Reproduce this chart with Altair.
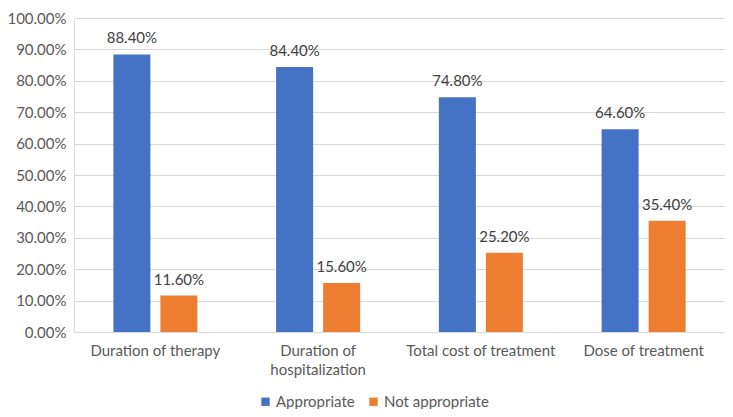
import altair as alt
import pandas as pd

categories = ["Duration of therapy", "Duration of hospitalization", "Total cost of treatment", "Dose of treatment"]
series = ["Appropriate", "Not appropriate"]
appropriate = [88.4, 84.4, 74.8, 64.6]
not_appropriate = [11.6, 15.6, 25.2, 35.4]
colors = ["#4472C4", "#ED7D31"]

rows = []
for c, a, n in zip(categories, appropriate, not_appropriate):
    rows.append({"category": c, "series": series[0], "value": a / 100})
    rows.append({"category": c, "series": series[1], "value": n / 100})
df = pd.DataFrame(rows)

FONT = "Lato"

x = alt.X("category:N", sort=categories, title=None,
          scale=alt.Scale(paddingInner=0, paddingOuter=0),
          axis=alt.Axis(labelAngle=0, ticks=False, domain=True, domainColor="#D9D9D9",
                        labelColor="#595959", labelFont=FONT, labelFontSize=15,
                        labelPadding=11, labelLineHeight=19,
                        labelExpr="datum.label == 'Duration of hospitalization' ? ['Duration of', 'hospitalization'] : datum.label"))
xo = alt.XOffset("series:N", sort=series,
                 scale=alt.Scale(paddingInner=0.2128, paddingOuter=0.8378))
y = alt.Y("value:Q", title=None,
          scale=alt.Scale(domain=[0, 1], nice=False),
          axis=alt.Axis(format=".2%", values=[i / 10 for i in range(11)], domain=False, ticks=False,
                        gridColor="#D9D9D9", labelColor="#595959", labelFont=FONT,
                        labelFontSize=15, labelPadding=8))

bars = alt.Chart(df).mark_bar().encode(
    x=x, xOffset=xo, y=y,
    color=alt.Color("series:N", sort=series,
                    scale=alt.Scale(domain=series, range=colors),
                    legend=alt.Legend(title=None, orient="none", direction="horizontal",
                                      legendX=184, legendY=376, symbolType="square",
                                      symbolSize=70, symbolStrokeWidth=0,
                                      labelFont=FONT, labelFontSize=15, labelColor="#595959",
                                      columnPadding=11, labelOffset=3))
)

labels = alt.Chart(df).mark_text(dy=-11, baseline="alphabetic", font=FONT, fontSize=15,
                                 color="#404040").encode(
    x=x, xOffset=xo, y=y,
    text=alt.Text("value:Q", format=".2%")
)

chart = (bars + labels).properties(
    width=651, height=314,
    autosize=alt.AutoSizeParams(type="none"),
    padding={"left": 66, "top": 10, "right": 0, "bottom": 77},
).configure_view(stroke=None).configure(background="white")

chart.save("out.html", embed_options={"renderer": "svg", "actions": False})
